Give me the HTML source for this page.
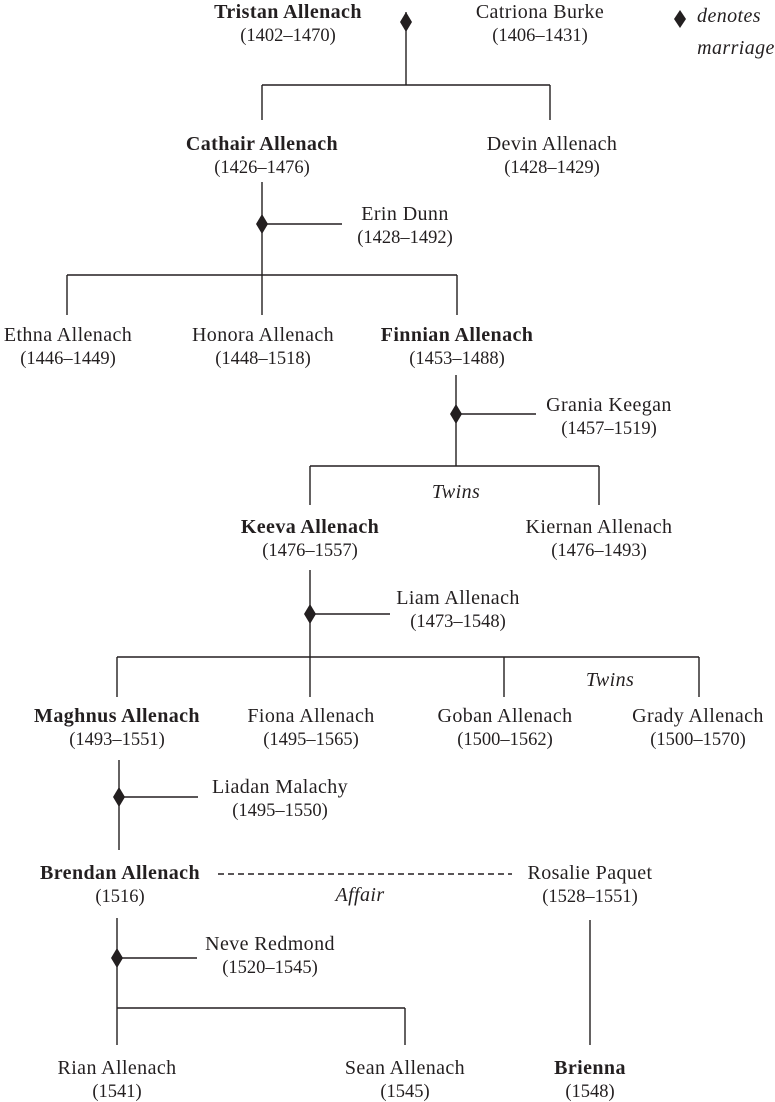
<!DOCTYPE html>
<html><head><meta charset="utf-8"><style>
html,body{margin:0;padding:0;background:#fff;}
body{width:775px;height:1100px;position:relative;overflow:hidden;font-family:"Liberation Serif",serif;color:#231f20;}
.t{position:absolute;transform:translate(-50%,-50%);white-space:nowrap;font-size:18.5px;line-height:1;margin-top:2px;}
.n{font-size:20px;letter-spacing:0.4px;}
.b{font-weight:bold;}
.i{font-style:italic;}
svg{position:absolute;left:0;top:0;}
</style></head><body>
<svg width="775" height="1100" stroke="#231f20" stroke-width="1.4" fill="none">
<path d="M406 12V85M262 85H550M262 85V120M550 85V120"/>
<path d="M262 182V315M262 224H342M67 275H457M67 275V315M457 275V315"/>
<path d="M456 375V466M456 414H536M310 466H599M310 466V505M599 466V505"/>
<path d="M310 570V697M310 614H390M117 657H699M117 657V697M504 657V697M699 657V697"/>
<path d="M119 760V850M119 797H198"/>
<path d="M218 874H512" stroke-dasharray="6,4"/>
<path d="M117 918V1045M117 958H197M117 1008H405M405 1008V1045M590 920V1045"/>
<g fill="#231f20" stroke="none">
<path d="M406 12l6 10-6 10-6-10z"/>
<path d="M680 10l6 9-6 9-6-9z"/>
<path d="M262 214l6 10-6 10-6-10z"/>
<path d="M456 404l6 10-6 10-6-10z"/>
<path d="M310 604l6 10-6 10-6-10z"/>
<path d="M119 787l6 10-6 10-6-10z"/>
<path d="M117 948l6 10-6 10-6-10z"/>
</g>
</svg>
<div class="t n b" style="left:288px;top:10px">Tristan Allenach</div>
<div class="t" style="left:288px;top:34px">(1402–1470)</div>
<div class="t n" style="left:540px;top:10px">Catriona Burke</div>
<div class="t" style="left:540px;top:34px">(1406–1431)</div>
<div class="t i n" style="left:729px;top:14px">denotes</div>
<div class="t i n" style="left:736px;top:46px">marriage</div>
<div class="t n b" style="left:262px;top:142px">Cathair Allenach</div>
<div class="t" style="left:262px;top:166px">(1426–1476)</div>
<div class="t n" style="left:552px;top:142px">Devin Allenach</div>
<div class="t" style="left:552px;top:166px">(1428–1429)</div>
<div class="t n" style="left:405px;top:212px">Erin Dunn</div>
<div class="t" style="left:405px;top:236px">(1428–1492)</div>
<div class="t n" style="left:68px;top:333px">Ethna Allenach</div>
<div class="t" style="left:68px;top:357px">(1446–1449)</div>
<div class="t n" style="left:263px;top:333px">Honora Allenach</div>
<div class="t" style="left:263px;top:357px">(1448–1518)</div>
<div class="t n b" style="left:457px;top:333px">Finnian Allenach</div>
<div class="t" style="left:457px;top:357px">(1453–1488)</div>
<div class="t n" style="left:609px;top:403px">Grania Keegan</div>
<div class="t" style="left:609px;top:427px">(1457–1519)</div>
<div class="t i n" style="left:456px;top:490px">Twins</div>
<div class="t n b" style="left:310px;top:525px">Keeva Allenach</div>
<div class="t" style="left:310px;top:549px">(1476–1557)</div>
<div class="t n" style="left:599px;top:525px">Kiernan Allenach</div>
<div class="t" style="left:599px;top:549px">(1476–1493)</div>
<div class="t n" style="left:458px;top:596px">Liam Allenach</div>
<div class="t" style="left:458px;top:620px">(1473–1548)</div>
<div class="t i n" style="left:610px;top:678px">Twins</div>
<div class="t n b" style="left:117px;top:714px">Maghnus Allenach</div>
<div class="t" style="left:117px;top:738px">(1493–1551)</div>
<div class="t n" style="left:311px;top:714px">Fiona Allenach</div>
<div class="t" style="left:311px;top:738px">(1495–1565)</div>
<div class="t n" style="left:505px;top:714px">Goban Allenach</div>
<div class="t" style="left:505px;top:738px">(1500–1562)</div>
<div class="t n" style="left:698px;top:714px">Grady Allenach</div>
<div class="t" style="left:698px;top:738px">(1500–1570)</div>
<div class="t n" style="left:280px;top:785px">Liadan Malachy</div>
<div class="t" style="left:280px;top:809px">(1495–1550)</div>
<div class="t n b" style="left:120px;top:871px">Brendan Allenach</div>
<div class="t" style="left:120px;top:895px">(1516)</div>
<div class="t i n" style="left:360px;top:893px">Affair</div>
<div class="t n" style="left:590px;top:871px">Rosalie Paquet</div>
<div class="t" style="left:590px;top:895px">(1528–1551)</div>
<div class="t n" style="left:270px;top:942px">Neve Redmond</div>
<div class="t" style="left:270px;top:966px">(1520–1545)</div>
<div class="t n" style="left:117px;top:1066px">Rian Allenach</div>
<div class="t" style="left:117px;top:1090px">(1541)</div>
<div class="t n" style="left:405px;top:1066px">Sean Allenach</div>
<div class="t" style="left:405px;top:1090px">(1545)</div>
<div class="t n b" style="left:590px;top:1066px">Brienna</div>
<div class="t" style="left:590px;top:1090px">(1548)</div>
</body></html>
